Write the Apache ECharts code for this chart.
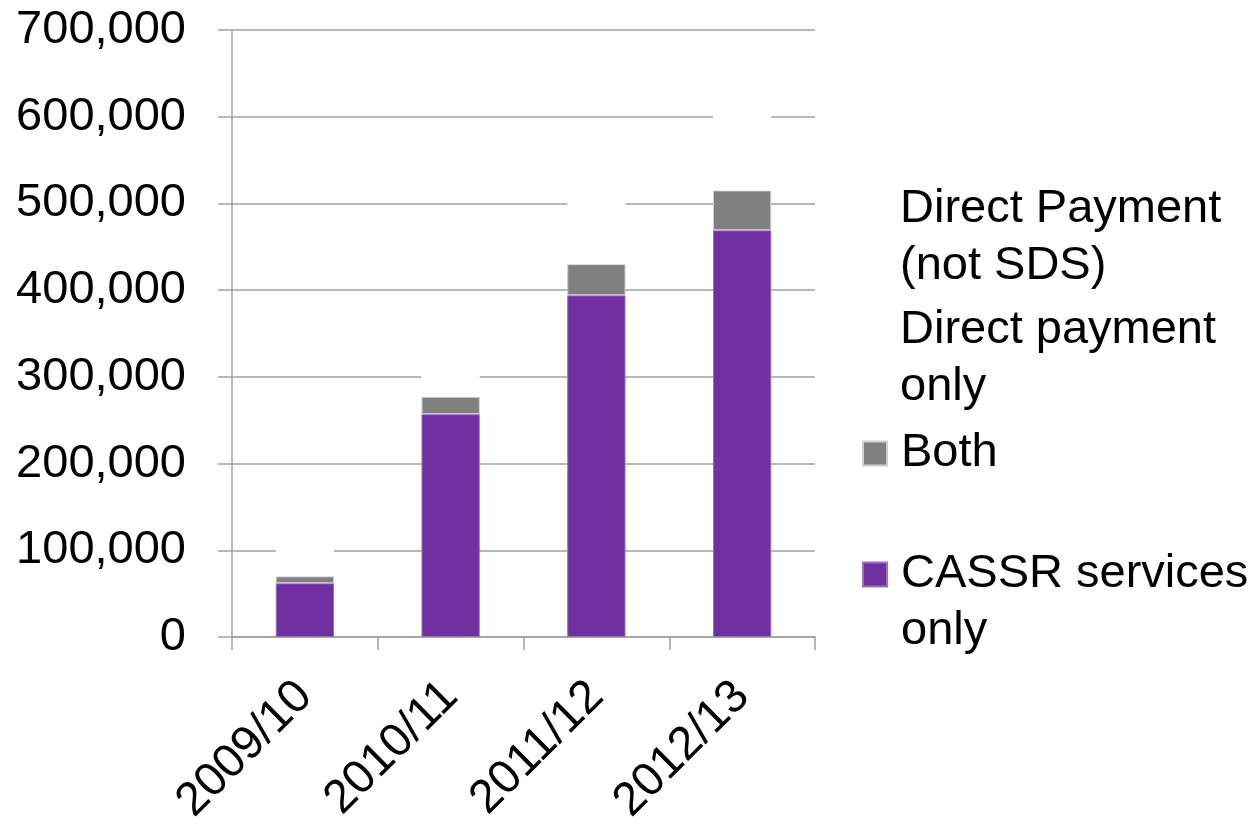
<!DOCTYPE html>
<html>
<head>
<meta charset="utf-8">
<script src="https://cdn.jsdelivr.net/npm/echarts@6/dist/echarts.min.js"></script>
<style>
html,body{margin:0;padding:0;background:#fff;}
#chart{width:1258px;height:820px;}
</style>
</head>
<body>
<div id="chart"></div>
<script>
const categories = ['2009/10', '2010/11', '2011/12', '2012/13'];
const cassrOnly = [62000, 257000, 394000, 469000];
const both = [8000, 20000, 36000, 46000];
const directPaymentOnly = [50000, 60000, 80000, 70000];
const directPaymentNotSDS = [30000, 20000, 40000, 60000];
const yTicks = [0, 100000, 200000, 300000, 400000, 500000, 600000, 700000];

const FONT = 'Liberation Sans, Arial, sans-serif';
const chart = echarts.init(document.getElementById('chart'));

const legendNames = {
  'Direct Payment (not SDS)': 'Direct Payment\n(not SDS)',
  'Direct payment only': 'Direct payment\nonly',
  'Both': 'Both',
  'CASSR services only': ' \nCASSR services\nonly'
};
function mkLegend(name, top) {
  return {
    data: [name],
    left: 862,
    top: top,
    padding: 0,
    orient: 'vertical',
    icon: 'rect',
    itemWidth: 24,
    itemHeight: 24,
    selectedMode: false,
    formatter: n => legendNames[n],
    textStyle: {
      fontFamily: FONT,
      fontSize: 47,
      lineHeight: 57,
      color: '#000',
      padding: [0, 0, 0, 9]
    }
  };
}

const barBase = {
  type: 'bar',
  stack: 'total',
  barCategoryGap: '60%',
  animation: false
};

chart.setOption({
  animation: false,
  backgroundColor: '#fff',
  grid: { left: 232, right: 443, top: 30, bottom: 183, containLabel: false, outerBoundsMode: 'none' },
  legend: [
    mkLegend('Direct Payment (not SDS)', 181),
    mkLegend('Direct payment only', 302),
    mkLegend('Both', 425),
    mkLegend('CASSR services only', 489)
  ],
  xAxis: {
    type: 'category',
    data: categories,
    axisLine: { show: true, lineStyle: { color: '#a0a0a0', width: 1.5 } },
    axisTick: { show: true, length: 13, alignWithLabel: false, lineStyle: { color: '#a0a0a0', width: 1.5 } },
    axisLabel: { rotate: 45, margin: 52, fontFamily: FONT, fontSize: 47, color: '#000' },
    splitLine: { show: false }
  },
  yAxis: {
    type: 'value',
    min: 0,
    max: 700000,
    interval: 100000,
    axisLine: { show: true, lineStyle: { color: '#a0a0a0', width: 1.5 } },
    axisTick: { show: true, length: 14, lineStyle: { color: '#a0a0a0', width: 1.5 } },
    axisLabel: {
      margin: 46,
      fontFamily: FONT,
      fontSize: 47,
      color: '#000',
      formatter: v => yTicks.includes(v) ? v.toLocaleString('en-US') : ''
    },
    splitLine: { show: true, lineStyle: { color: '#a0a0a0', width: 1.5 } }
  },
  series: [
    Object.assign({}, barBase, {
      name: 'CASSR services only', data: cassrOnly,
      itemStyle: { color: '#7030A0', borderColor: '#9a70bd', borderWidth: 1 }
    }),
    Object.assign({}, barBase, {
      name: 'Both', data: both,
      itemStyle: { color: '#808080', borderColor: '#cfcfcf', borderWidth: 1 }
    }),
    Object.assign({}, barBase, {
      name: 'Direct payment only', data: directPaymentOnly,
      itemStyle: { color: '#ffffff', borderWidth: 0 }
    }),
    Object.assign({}, barBase, {
      name: 'Direct Payment (not SDS)', data: directPaymentNotSDS,
      itemStyle: { color: '#ffffff', borderWidth: 0 }
    })
  ]
});
</script>
</body>
</html>
